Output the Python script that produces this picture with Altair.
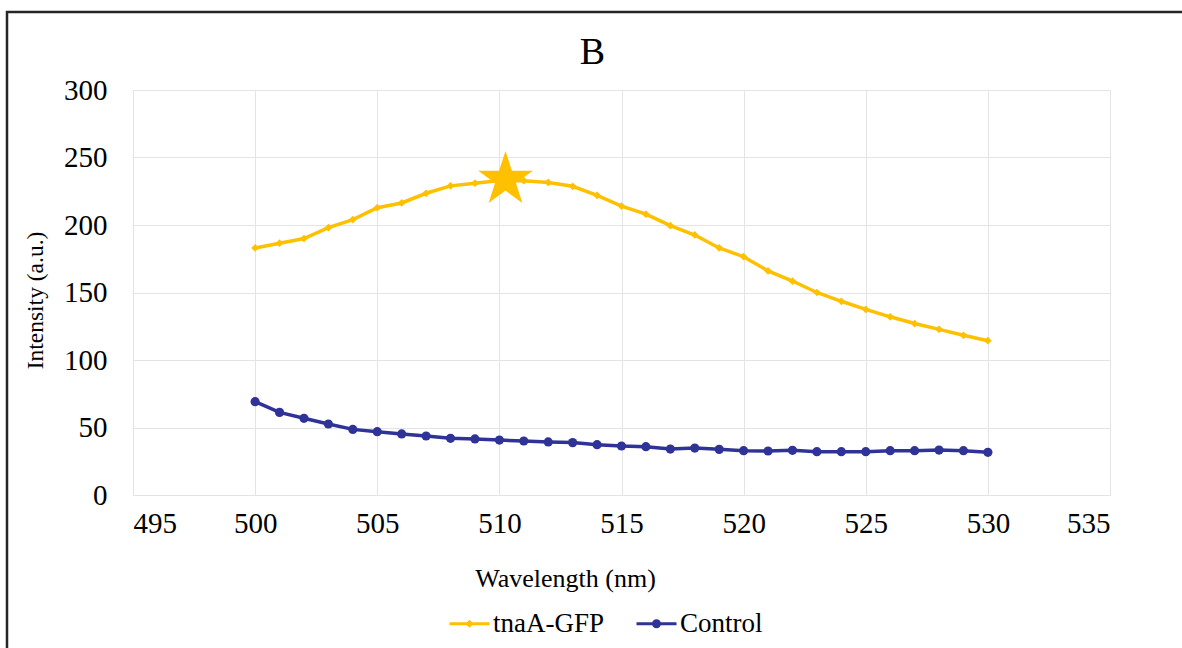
import altair as alt
import pandas as pd

wavelength = list(range(500, 531))
tnaA_gfp = [183, 186.5, 190, 198, 204, 212.8, 216.3, 223.5, 229, 231, 233,
            232.8, 231.5, 228.7, 222, 214, 208, 199.5, 192.6, 183, 176.5,
            166, 158.5, 150, 143.5, 137.5, 132, 127, 122.7, 118.3, 114.3]
control = [69.1, 61.2, 56.8, 52.6, 48.6, 46.9, 45.2, 43.7, 42, 41.5, 40.7,
           40, 39.3, 38.8, 37.3, 36.3, 35.8, 34, 34.8, 33.8, 32.8,
           32.6, 33.1, 32.1, 32.1, 32.1, 32.8, 32.8, 33.3, 32.8, 31.6]
peak_x = [510.25]
peak_y = [233.6]

series_names = ["tnaA-GFP", "Control"]
series_colors = ["#FFC000", "#2F3296"]
legend_paths = ["M-1,0H1M0,-0.1L0.1,0L0,0.1L-0.1,0Z",
                "M-1,0H1M0.15,0A0.15,0.15,0,1,1,-0.15,0A0.15,0.15,0,1,1,0.15,0Z"]
star_path = ("M0,-1L0.2245,-0.309L0.951,-0.309L0.363,0.118L0.588,0.809L0,0.382"
             "L-0.588,0.809L-0.363,0.118L-0.951,-0.309L-0.2245,-0.309Z")

rows = []
for w, v in zip(wavelength, tnaA_gfp):
    rows.append({"Wavelength": w, "Intensity": v, "Series": "tnaA-GFP"})
for w, v in zip(wavelength, control):
    rows.append({"Wavelength": w, "Intensity": v, "Series": "Control"})
df = pd.DataFrame(rows)
peak = pd.DataFrame({"Wavelength": peak_x, "Intensity": peak_y})

FONT = "Liberation Serif"

xscale = alt.Scale(domain=[495, 535], nice=False)
yscale = alt.Scale(domain=[0, 300], nice=False)

legend = alt.Legend(
    title=None, orient="none", legendX=315, legendY=512, direction="horizontal",
    symbolSize=1600, symbolStrokeWidth=3, labelFont=FONT, labelFontSize=27,
    labelColor="black", columnPadding=25, labelOffset=2, padding=0,
)

base = alt.Chart(df)

lines = base.mark_line(strokeWidth=3.5).encode(
    x=alt.X("Wavelength:Q", scale=xscale,
            axis=alt.Axis(values=list(range(495, 536, 5)), title="Wavelength (nm)",
                          titleX=432, titlePadding=27)),
    y=alt.Y("Intensity:Q", scale=yscale,
            axis=alt.Axis(values=list(range(0, 301, 50)), title="Intensity (a.u.)",
                          titlePadding=16, titleY=210)),
    color=alt.Color("Series:N", scale=alt.Scale(domain=series_names, range=series_colors), legend=None),
)

points = base.mark_point(filled=True, opacity=1).encode(
    x=alt.X("Wavelength:Q", scale=xscale),
    y=alt.Y("Intensity:Q", scale=yscale),
    color=alt.Color("Series:N", scale=alt.Scale(domain=series_names, range=series_colors), legend=None),
    shape=alt.Shape("Series:N", scale=alt.Scale(domain=series_names, range=["diamond", "circle"]), legend=None),
    size=alt.Size("Series:N", scale=alt.Scale(domain=series_names, range=[60, 85]), legend=None),
)

legend_layer = base.transform_filter("datum.Intensity < 0").mark_point(
    filled=False, opacity=1, strokeWidth=3
).encode(
    x=alt.X("Wavelength:Q", scale=xscale),
    y=alt.Y("Intensity:Q", scale=yscale),
    color=alt.Color("Series:N", scale=alt.Scale(domain=series_names, range=series_colors), legend=legend),
    shape=alt.Shape("Series:N", scale=alt.Scale(domain=series_names, range=legend_paths), legend=legend),
)

star = alt.Chart(peak).mark_point(shape=star_path, filled=True, color="#FFC000", opacity=1, size=3300).encode(
    x=alt.X("Wavelength:Q", scale=xscale),
    y=alt.Y("Intensity:Q", scale=yscale),
)

frame = alt.Chart(alt.Data(values=[{"a": 1}])).mark_rect(
    fillOpacity=0, stroke="#262626", strokeWidth=2.5, clip=False
).encode(
    x=alt.value(-126), x2=alt.value(1090), y=alt.value(-78), y2=alt.value(620)
)

chart = alt.layer(frame, lines, points, legend_layer, star).resolve_scale(
    shape="independent", color="independent"
).properties(
    width=977, height=405,
    title=alt.TitleParams("B", font=FONT, fontSize=38, fontWeight="normal", color="black",
                          dx=-29, offset=22, dy=83),
    padding={"left": 133, "top": 90, "right": 72, "bottom": 153},
    autosize=alt.AutoSizeParams(type="none"),
).configure_view(stroke=None).configure_axis(
    labelFont=FONT, titleFont=FONT, labelFontSize=29, titleFontSize=26,
    titleFontWeight="normal", labelColor="black", titleColor="black",
    gridColor="#E4E4E4", gridWidth=1, domain=False, ticks=False,
).configure_axisX(labelPadding=14).configure_axisY(labelPadding=26, titleFontSize=23.5)

chart.save("out.html", embed_options={"renderer": "svg", "actions": False})
